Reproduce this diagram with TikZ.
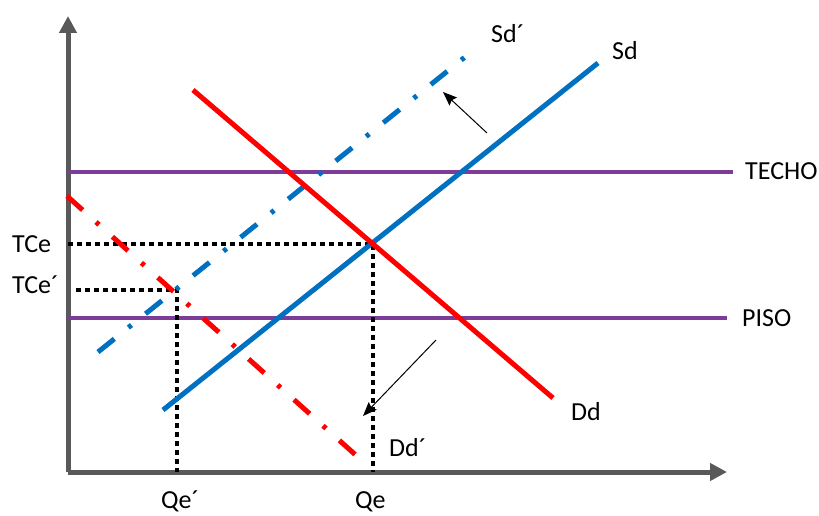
\documentclass[tikz,border=0pt]{standalone}
\usepackage{fontspec}
\setmainfont{Carlito}
\usetikzlibrary{arrows.meta,positioning}
\definecolor{axisgray}{HTML}{595959}
\definecolor{supblue}{HTML}{0070C0}
\definecolor{demred}{HTML}{FF0000}
\definecolor{limpurple}{RGB}{125,60,152}

\begin{document}
\begin{tikzpicture}[x=1pt, y=-1pt, font=\fontsize{26}{30}\selectfont,
  axis/.style={draw=axisgray, line width=5pt, -{Triangle[length=17pt,width=17pt]}},
  curve/.style={line width=5pt},
  shifted/.style={curve, dash pattern=on 21pt off 18pt on 4pt off 18pt},
  bound/.style={draw=limpurple, line width=4.5pt},
  guide/.style={line width=4.5pt, dash pattern=on 4.5pt off 4.5pt},
  move/.style={line width=1pt, -{Stealth[length=14pt,width=11pt,inset=2pt]}},
  lbl/.style={inner sep=0pt, anchor=base west}]
\useasboundingbox (0,0) rectangle (819,516);
% axes
\coordinate (O) at (68,472);
\coordinate (ytop) at (68,16);
\coordinate (xend) at (727,472);
\draw[axis] (O) -- (ytop);
\draw[axis] (O) -- (xend);
% price ceiling and floor
\coordinate (techo0) at (68,172);
\coordinate (techo1) at (733,172);
\coordinate (piso0) at (68,318);
\coordinate (piso1) at (727,318);
\draw[bound] (techo0) -- (techo1);
\draw[bound] (piso0) -- (piso1);
% equilibria and their guide lines
\coordinate (E) at (373,244);
\coordinate (Ep) at (177,290);
\draw[guide] (68,244) -- (E) -- (E |- O);
\draw[guide] (76,290) -- (Ep) -- (Ep |- O);
% supply and demand, before and after the shift
\coordinate (sd0) at (163,410);
\coordinate (sd1) at (598,63);
\coordinate (sdp0) at (98,352);
\coordinate (sdp1) at (470,53);
\coordinate (dd0) at (193,90);
\coordinate (dd1) at (553,398);
\coordinate (ddp0) at (67,196);
\coordinate (ddp1) at (359,458);
\draw[curve, supblue] (sd0) -- (sd1);
\draw[shifted, supblue] (sdp0) -- (sdp1);
\draw[curve, demred] (dd0) -- (dd1);
\draw[shifted, demred] (ddp0) -- (ddp1);
% shift arrows
\coordinate (sm0) at (487,133);
\coordinate (sm1) at (443,92);
\coordinate (dm0) at (436,340);
\coordinate (dm1) at (363,416);
\draw[move] (sm0) -- (sm1);
\draw[move] (dm0) -- (dm1);
% labels
\node[lbl] (lSdp) at (491,43) {Sd´};
\node[lbl] (lSd) at (612,60) {Sd};
\node[lbl] (lTecho) at (745,179) {TECHO};
\node[lbl] (lPiso) at (742,326) {PISO};
\node[lbl] (lDd) at (571,420) {Dd};
\node[lbl] (lDdp) at (389,456) {Dd´};
\node[lbl] (lTCe) at (12,252) {TCe};
\node[lbl] (lTCep) at (12,293) {TCe´};
\node[lbl] (lQe) at (355,508) {Qe};
\node[lbl] (lQep) at (161,508) {Qe´};
\end{tikzpicture}
\end{document}
